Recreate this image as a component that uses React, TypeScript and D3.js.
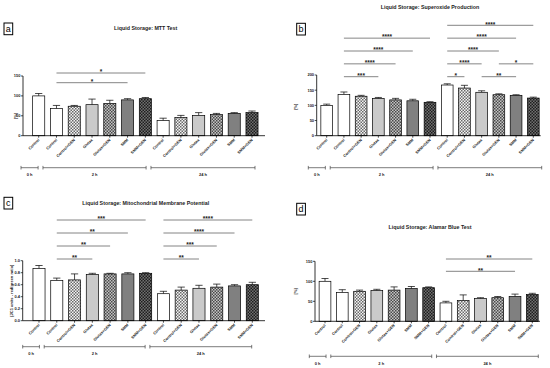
import React from 'react';
import * as d3 from 'd3';

// bar categories (same order in every panel)
const categories = ['Control', 'Control', 'Control+GEN', 'Glutax', 'Glutax+GEN', 'SMM', 'SMM+GEN',
  'Control', 'Control+GEN', 'Glutax', 'Glutax+GEN', 'SMM', 'SMM+GEN'];
const fillKinds = ['white', 'white', 'chkLight', 'glutax', 'chkMid', 'smm', 'chkDark',
  'white', 'chkLight', 'glutax', 'chkMid', 'smm', 'chkDark'];
const timeGroups: [string, number, number][] = [['0 h', 0, 1], ['2 h', 1, 7], ['24 h', 7, 13]];

// a: MTT
const mttMean = [100, 68, 74, 78, 81, 90, 93, 38, 46, 51, 53, 56, 58];
const mttErr = [6, 8, 2, 14, 8, 3, 3, 6, 5, 7, 3, 2, 4];
const mttTicks = [0, 50, 100, 150];
const mttSig: [number, number, string, number][] = [[1, 5, '*', 0], [1, 6, '*', 1]];

// b: superoxide
const superMean = [100, 136, 130, 123, 118, 115, 110, 167, 157, 143, 135, 133, 124];
const superErr = [4, 8, 3, 3, 5, 5, 2, 4, 9, 5, 3, 2, 3];
const superTicks = [0, 50, 100, 150, 200];
const superSig: [number, number, string, number][] = [
  [1, 3, '***', 0], [1, 4, '****', 1], [1, 5, '****', 2], [1, 6, '****', 3],
  [7, 8, '*', 0], [9, 11, '**', 0], [7, 9, '****', 1], [10, 12, '*', 1],
  [7, 10, '****', 2], [7, 11, '****', 3], [7, 12, '****', 4],
];

// c: mitochondrial membrane potential
const mmpMean = [0.87, 0.67, 0.68, 0.77, 0.78, 0.78, 0.79, 0.45, 0.51, 0.54, 0.56, 0.58, 0.60];
const mmpErr = [0.05, 0.04, 0.10, 0.02, 0.01, 0.02, 0.01, 0.04, 0.05, 0.05, 0.05, 0.02, 0.04];
const mmpTicks = [0, 0.2, 0.4, 0.6, 0.8, 1.0];
const mmpSig: [number, number, string, number][] = [
  [1, 3, '**', 0], [1, 4, '**', 1], [1, 5, '**', 2], [1, 6, '***', 3],
  [7, 9, '**', 0], [7, 10, '***', 1], [7, 11, '****', 2], [7, 12, '****', 3],
];

// d: alamar blue
const alamarMean = [100, 72, 75, 77, 78, 82, 84, 46, 52, 57, 59, 62, 67];
const alamarErr = [7, 7, 3, 3, 8, 5, 2, 4, 14, 2, 3, 6, 3];
const alamarTicks = [0, 50, 100, 150];
const alamarSig: [number, number, string, number][] = [[7, 11, '**', 0], [7, 12, '**', 1]];

const FONT = '"Liberation Sans", Arial, sans-serif';

const fillOf: Record<string, string> = {
  white: '#ffffff',
  glutax: '#cacaca',
  smm: '#808080',
  chkLight: 'url(#chkLight)',
  chkMid: 'url(#chkMid)',
  chkDark: 'url(#chkDark)',
};

type PanelProps = {
  ox: number; oy: number;
  letter: string; letterX: number; letterY: number;
  title: string; titleX: number; titleY: number;
  yLabel: string; yLabelX: number; yLabelY: number;
  mean: number[]; err: number[]; ticks: number[]; fmt: (v: number) => string;
  sig: [number, number, string, number][]; sigBase: number; sigStep: number;
  axisX: number; xEnd: number; y0: number; yTop: number;
  c0: number; cN: number;
  brY: number; br0: number; br1: number; brLabelY: number;
};

const Panel = (p: PanelProps) => {
  const n = categories.length;
  const step = (p.cN - p.c0) / (n - 1);
  const x = d3.scaleBand<number>()
    .domain(d3.range(n))
    .range([p.c0 - step / 2, p.cN + step / 2])
    .paddingInner(0.32)
    .paddingOuter(0.16);
  const y = d3.scaleLinear()
    .domain([0, p.ticks[p.ticks.length - 1]])
    .range([p.y0, p.yTop]);
  const bw = x.bandwidth();
  const cx = (i: number) => (x(i) as number) + bw / 2;
  const bx = d3.scaleLinear().domain([0, n]).range([p.br0, p.br1]);

  return (
    <g transform={`translate(${p.ox},${p.oy})`} fontFamily={FONT}>
      {/* panel letter */}
      <rect x={p.letterX} y={p.letterY} width={8.7} height={11.7} fill="#fff" stroke="#000" strokeWidth={1} />
      <text x={p.letterX + 4.35} y={p.letterY + 9} fontSize={9} textAnchor="middle" fill="#000">{p.letter}</text>
      <text x={p.titleX} y={p.titleY} fontSize={5.3} fontWeight="bold" textAnchor="middle" fill="#222">{p.title}</text>

      {/* significance lines */}
      {p.sig.map(([a, b, s, lv], k) => {
        const ly = p.sigBase - lv * p.sigStep;
        return (
          <g key={'s' + k}>
            <line x1={cx(a)} x2={cx(b)} y1={ly} y2={ly} stroke="#666" strokeWidth={0.8} />
            <text x={(cx(a) + cx(b)) / 2} y={ly + 1.2} fontSize={6.5} fontWeight="bold" textAnchor="middle" fill="#222">{s}</text>
          </g>
        );
      })}

      {/* bars */}
      {p.mean.map((v, i) => (
        <g key={'b' + i}>
          <line x1={cx(i)} x2={cx(i)} y1={y(v)} y2={y(v + p.err[i])} stroke="#000" strokeWidth={0.7} />
          <line x1={cx(i) - bw * 0.3} x2={cx(i) + bw * 0.3} y1={y(v + p.err[i])} y2={y(v + p.err[i])} stroke="#000" strokeWidth={0.7} />
          <rect x={x(i)} y={y(v)} width={bw} height={p.y0 - y(v)} fill={fillOf[fillKinds[i]]} stroke="#000" strokeWidth={0.7} />
        </g>
      ))}

      {/* y axis */}
      <line x1={p.axisX} x2={p.axisX} y1={p.y0} y2={p.yTop} stroke="#000" strokeWidth={0.8} />
      {p.ticks.map((t) => (
        <g key={'t' + t}>
          <line x1={p.axisX - 2} x2={p.axisX} y1={y(t)} y2={y(t)} stroke="#000" strokeWidth={0.7} />
          <text x={p.axisX - 2.6} y={y(t) + 1.4} fontSize={4} fontWeight="bold" textAnchor="end" fill="#222">{p.fmt(t)}</text>
        </g>
      ))}
      <text transform={`translate(${p.yLabelX},${p.yLabelY}) rotate(-90)`} fontSize={4} fontWeight="bold" textAnchor="middle" fill="#222">{p.yLabel}</text>

      {/* x axis */}
      <line x1={p.axisX} x2={p.xEnd} y1={p.y0} y2={p.y0} stroke="#000" strokeWidth={0.8} />
      {categories.map((c, i) => (
        <g key={'x' + i}>
          <line x1={cx(i)} x2={cx(i)} y1={p.y0} y2={p.y0 + 2} stroke="#000" strokeWidth={0.7} />
          <text transform={`translate(${cx(i) + 1},${p.y0 + 4.5}) rotate(-45)`} fontSize={3.9} fontWeight="bold" textAnchor="end" fill="#222">{c}</text>
        </g>
      ))}

      {/* time brackets */}
      {timeGroups.map(([lab, a, b]) => {
        const xa = bx(a + (a > 0 ? 0.22 : 0));
        const xb = bx(b - (b < n ? 0.05 : 0));
        return (
          <g key={lab}>
            <line x1={xa} x2={xb} y1={p.brY} y2={p.brY} stroke="#444" strokeWidth={0.7} />
            <line x1={xa} x2={xa} y1={p.brY - 1.8} y2={p.brY + 1.8} stroke="#444" strokeWidth={0.7} />
            <line x1={xb} x2={xb} y1={p.brY - 1.8} y2={p.brY + 1.8} stroke="#444" strokeWidth={0.7} />
            <text x={(xa + xb) / 2} y={p.brLabelY} fontSize={4} fontWeight="bold" textAnchor="middle" fill="#222">{lab}</text>
          </g>
        );
      })}
    </g>
  );
};

const fmtInt = (v: number) => d3.format('d')(v);
const fmt1 = (v: number) => d3.format('.1f')(v);

const App = () => (
  <svg width={550} height={368} style={{ position: 'absolute', left: 0, top: 0, background: '#fff' }}>
    <defs>
      <pattern id="chkLight" width={3} height={3} patternUnits="userSpaceOnUse">
        <rect width={3} height={3} fill="#f4f4f4" />
        <rect width={1.5} height={1.5} fill="#6a6a6a" />
        <rect x={1.5} y={1.5} width={1.5} height={1.5} fill="#6a6a6a" />
      </pattern>
      <pattern id="chkMid" width={3} height={3} patternUnits="userSpaceOnUse">
        <rect width={3} height={3} fill="#c4c4c4" />
        <rect width={1.5} height={1.5} fill="#4a4a4a" />
        <rect x={1.5} y={1.5} width={1.5} height={1.5} fill="#4a4a4a" />
      </pattern>
      <pattern id="chkDark" width={3} height={3} patternUnits="userSpaceOnUse">
        <rect width={3} height={3} fill="#707070" />
        <rect width={1.5} height={1.5} fill="#1e1e1e" />
        <rect x={1.5} y={1.5} width={1.5} height={1.5} fill="#1e1e1e" />
      </pattern>
    </defs>
    <Panel ox={0} oy={0} letter="a" letterX={4} letterY={23} title="Liquid Storage: MTT Test" titleX={145.7} titleY={29.5}
      yLabel="[%]" yLabelX={16.5} yLabelY={116} mean={mttMean} err={mttErr} ticks={mttTicks} fmt={fmtInt}
      sig={mttSig} sigBase={82.7} sigStep={9.7} axisX={23} xEnd={265} y0={135.7} yTop={76}
      c0={38.7} cN={252} brY={167.7} br0={21} br1={255} brLabelY={175.6} />
    <Panel ox={275} oy={0} letter="b" letterX={21.7} letterY={23.3} title="Liquid Storage: Superoxide Production" titleX={155} titleY={9}
      yLabel="[%]" yLabelX={22} yLabelY={106.7} mean={superMean} err={superErr} ticks={superTicks} fmt={fmtInt}
      sig={superSig} sigBase={76.7} sigStep={12.85} axisX={41.7} xEnd={265.7} y0={135.7} yTop={75}
      c0={51.7} cN={258.3} brY={167.7} br0={33.3} br1={266.7} brLabelY={176} />
    <Panel ox={0} oy={184} letter="c" letterX={4} letterY={13.3} title="Liquid Storage: Mitochondrial Membrane Potential" titleX={145.7} titleY={20.8}
      yLabel="[JC1 units - red/green ratio]" yLabelX={12.5} yLabelY={106.7} mean={mmpMean} err={mmpErr} ticks={mmpTicks} fmt={fmt1}
      sig={mmpSig} sigBase={75} sigStep={13} axisX={22.7} xEnd={265} y0={136.7} yTop={76.7}
      c0={39} cN={252.3} brY={162.7} br0={22.7} br1={251.7} brLabelY={171} />
    <Panel ox={275} oy={184} letter="d" letterX={21.7} letterY={19.3} title="Liquid Storage: Alamar Blue Test" titleX={155} titleY={45}
      yLabel="[%]" yLabelX={21.5} yLabelY={107.3} mean={alamarMean} err={alamarErr} ticks={alamarTicks} fmt={fmtInt}
      sig={alamarSig} sigBase={87.3} sigStep={12.3} axisX={40} xEnd={265} y0={137.3} yTop={77.3}
      c0={50} cN={257.3} brY={172.3} br0={34.3} br1={263.3} brLabelY={180.6} />
  </svg>
);

export default App;
